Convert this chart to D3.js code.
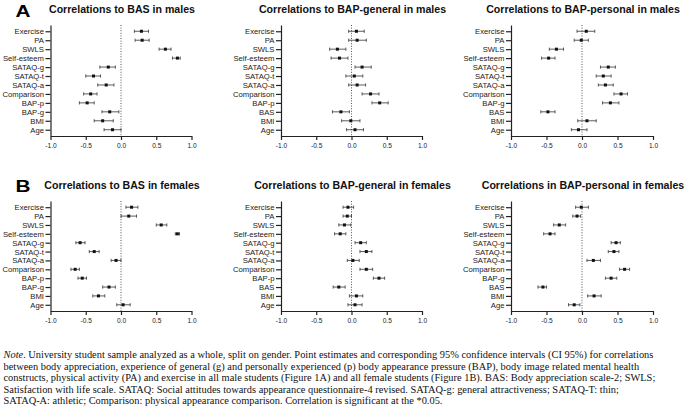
<!DOCTYPE html>
<html>
<head>
<meta charset="utf-8">
<script src="https://cdn.jsdelivr.net/npm/d3@7"></script>
<style>
  body { margin: 0; background: #fff; }
  svg { display: block; }
  .tick text { fill: #222; }
</style>
</head>
<body>
<div id="svg"></div>
<script>
//row labels for each kind of panel
let rowsBAS = ['Exercise', 'PA', 'SWLS', 'Self-esteem', 'SATAQ-g', 'SATAQ-t', 'SATAQ-a', 'Comparison', 'BAP-p', 'BAP-g', 'BMI', 'Age'];
let rowsBAPg = ['Exercise', 'PA', 'SWLS', 'Self-esteem', 'SATAQ-g', 'SATAQ-t', 'SATAQ-a', 'Comparison', 'BAP-p', 'BAS', 'BMI', 'Age'];
let rowsBAPp = ['Exercise', 'PA', 'SWLS', 'Self-esteem', 'SATAQ-g', 'SATAQ-t', 'SATAQ-a', 'Comparison', 'BAP-g', 'BAS', 'BMI', 'Age'];

let xTicks = [-1, -0.5, 0, 0.5, 1];

//males: estimate, lower and upper CI
let basMaleR = [0.29, 0.30, 0.63, 0.80, -0.18, -0.39, -0.21, -0.43, -0.48, -0.16, -0.26, -0.12];
let basMaleLo = [0.19, 0.20, 0.54, 0.73, -0.30, -0.50, -0.33, -0.53, -0.59, -0.27, -0.38, -0.24];
let basMaleHi = [0.39, 0.40, 0.71, 0.84, -0.08, -0.29, -0.10, -0.34, -0.38, -0.03, -0.11, 0.00];

let bapgMaleR = [0.07, 0.08, -0.20, -0.17, 0.15, 0.04, 0.08, 0.27, 0.40, -0.15, -0.01, 0.05];
let bapgMaleLo = [-0.04, -0.04, -0.31, -0.29, 0.05, -0.08, -0.04, 0.15, 0.29, -0.27, -0.14, -0.07];
let bapgMaleHi = [0.18, 0.21, -0.08, -0.05, 0.28, 0.16, 0.20, 0.39, 0.52, -0.03, 0.12, 0.17];

let bappMaleR = [0.06, -0.01, -0.36, -0.47, 0.37, 0.30, 0.33, 0.55, 0.40, -0.48, 0.07, -0.05];
let bappMaleLo = [-0.07, -0.11, -0.46, -0.57, 0.26, 0.20, 0.23, 0.45, 0.29, -0.58, -0.06, -0.15];
let bappMaleHi = [0.18, 0.09, -0.26, -0.38, 0.47, 0.41, 0.44, 0.64, 0.52, -0.38, 0.20, 0.07];

//females
let basFemR = [0.15, 0.11, 0.57, 0.80, -0.58, -0.38, -0.07, -0.65, -0.55, -0.17, -0.32, 0.03];
let basFemLo = [0.07, 0.00, 0.50, 0.77, -0.64, -0.45, -0.14, -0.71, -0.61, -0.26, -0.40, -0.06];
let basFemHi = [0.24, 0.22, 0.65, 0.83, -0.51, -0.31, 0.00, -0.59, -0.49, -0.08, -0.23, 0.13];

let bapgFemR = [-0.05, -0.06, -0.10, -0.16, 0.13, 0.21, 0.02, 0.21, 0.39, -0.18, 0.07, 0.05];
let bapgFemLo = [-0.12, -0.12, -0.18, -0.24, 0.05, 0.12, -0.06, 0.12, 0.31, -0.26, -0.03, -0.05];
let bapgFemHi = [0.03, 0.00, -0.01, -0.08, 0.21, 0.29, 0.11, 0.30, 0.47, -0.09, 0.16, 0.15];

let bappFemR = [-0.01, -0.07, -0.32, -0.45, 0.48, 0.45, 0.16, 0.60, 0.41, -0.55, 0.17, -0.11];
let bappFemLo = [-0.09, -0.13, -0.40, -0.54, 0.41, 0.37, 0.07, 0.53, 0.33, -0.62, 0.08, -0.19];
let bappFemHi = [0.09, -0.02, -0.23, -0.38, 0.54, 0.52, 0.26, 0.67, 0.49, -0.50, 0.27, -0.03];

let titles = ['Correlations to BAS in males', 'Correlations to BAP-general in males', 'Correlations to BAP-personal in males',
  'Correlations to BAS in females', 'Correlations to BAP-general in females', 'Correlations in BAP-personal in females'];

let noteLines = [
  'University student sample analyzed as a whole, split on gender. Point estimates and corresponding 95% confidence intervals (CI 95%) for correlations',
  'between body appreciation, experience of general (g) and personally experienced (p) body appearance pressure (BAP), body image related mental health',
  'constructs, physical activity (PA) and exercise in all male students (Figure 1A) and all female students (Figure 1B). BAS: Body appreciation scale-2; SWLS;',
  'Satisfaction with life scale. SATAQ: Social attitudes towards appearance questionnaire-4 revised. SATAQ-g: general attractiveness; SATAQ-T: thin;',
  'SATAQ-A: athletic; Comparison: physical appearance comparison. Correlation is significant at the *0.05.'];

//dimensions of svg
let w = 685;
let h = 406;

let svg = d3.select('#svg').
append('svg').
attr('width', w).
attr('height', h);

//panel layout
let cols = [[50.5, 191.5], [281, 422], [511, 653]];
let rowsY = [[25, 136], [201, 311]];
let titleY = [12.7, 188.5];

let panels = [
  { rows: rowsBAS, r: basMaleR, lo: basMaleLo, hi: basMaleHi },
  { rows: rowsBAPg, r: bapgMaleR, lo: bapgMaleLo, hi: bapgMaleHi },
  { rows: rowsBAPp, r: bappMaleR, lo: bappMaleLo, hi: bappMaleHi },
  { rows: rowsBAS, r: basFemR, lo: basFemLo, hi: basFemHi },
  { rows: rowsBAPg, r: bapgFemR, lo: bapgFemLo, hi: bapgFemHi },
  { rows: rowsBAPp, r: bappFemR, lo: bappFemLo, hi: bappFemHi }];

let font = 'Liberation Sans, Arial, sans-serif';

panels.forEach((p, k) => {
  let c = k % 3;
  let rw = Math.floor(k / 3);
  let g = svg.append('g');

  let xScale = d3.scaleLinear().
  domain([-1, 1]).
  range(cols[c]);

  let yScale = d3.scalePoint().
  domain(p.rows).
  range(rowsY[rw]).
  padding(0.7);

  //zero reference line
  g.append('line').
  attr('x1', xScale(0)).
  attr('x2', xScale(0)).
  attr('y1', rowsY[rw][0]).
  attr('y2', rowsY[rw][1]).
  attr('stroke', '#555').
  attr('stroke-width', 1).
  attr('stroke-dasharray', '1,1.6');

  //X axis
  let xAxis = d3.axisBottom(xScale).
  tickValues(xTicks).
  tickSize(4).
  tickSizeOuter(0).
  tickPadding(3).
  tickFormat(d => d.toFixed(1));

  let gx = g.append('g').
  attr('transform', 'translate(0,' + rowsY[rw][1] + ')').
  call(xAxis);
  gx.selectAll('text').
  style('font-family', font).
  style('font-size', '6.6px');

  //Y axis
  let yAxis = d3.axisLeft(yScale).
  tickSize(5).
  tickSizeOuter(0).
  tickPadding(1.5);

  let gy = g.append('g').
  attr('transform', 'translate(' + cols[c][0] + ',0)').
  call(yAxis);
  gy.selectAll('text').
  style('font-family', font).
  style('font-size', '7.7px');

  g.selectAll('.domain, .tick line').
  attr('stroke', '#222').
  attr('stroke-width', 1.2);

  //error bars
  let idx = d3.range(p.rows.length);
  let bars = g.selectAll('.ci').
  data(idx).
  enter().
  append('g').
  attr('class', 'ci').
  attr('stroke', '#333').
  attr('stroke-width', 0.8);

  bars.append('line').
  attr('x1', i => xScale(p.lo[i])).
  attr('x2', i => xScale(p.hi[i])).
  attr('y1', i => yScale(p.rows[i])).
  attr('y2', i => yScale(p.rows[i]));

  bars.append('line').
  attr('x1', i => xScale(p.lo[i])).
  attr('x2', i => xScale(p.lo[i])).
  attr('y1', i => yScale(p.rows[i]) - 1.6).
  attr('y2', i => yScale(p.rows[i]) + 1.6);

  bars.append('line').
  attr('x1', i => xScale(p.hi[i])).
  attr('x2', i => xScale(p.hi[i])).
  attr('y1', i => yScale(p.rows[i]) - 1.6).
  attr('y2', i => yScale(p.rows[i]) + 1.6);

  //point estimates
  g.selectAll('.pt').
  data(idx).
  enter().
  append('rect').
  attr('class', 'pt').
  attr('x', i => xScale(p.r[i]) - 1.5).
  attr('y', i => yScale(p.rows[i]) - 1.5).
  attr('width', 3).
  attr('height', 3).
  attr('fill', '#111');

  //title
  g.append('text').
  attr('x', (cols[c][0] + cols[c][1]) / 2 + 1).
  attr('y', titleY[rw]).
  attr('text-anchor', 'middle').
  style('font-family', font).
  style('font-weight', 'bold').
  style('font-size', '10.6px').
  attr('fill', '#111').
  text(titles[k]);
});

//panel letters
svg.selectAll('.letter').
data(['A', 'B']).
enter().
append('text').
attr('class', 'letter').
attr('x', 15.5).
attr('y', (d, i) => i === 0 ? 16.8 : 191.8).
attr('textLength', 15).
attr('lengthAdjust', 'spacingAndGlyphs').
style('font-family', font).
style('font-weight', 'bold').
style('font-size', '16.5px').
attr('fill', '#000').
text(d => d);

//note under the figure
let note = svg.append('g').
style('font-family', 'Liberation Serif, Times New Roman, serif').
style('font-size', '10.4px').
attr('fill', '#111');

note.selectAll('text').
data(noteLines).
enter().
append('text').
attr('x', 3.5).
attr('y', (d, i) => 358 + i * 11.5).
each(function (d, i) {
  let t = d3.select(this);
  if (i === 0) {
    t.append('tspan').style('font-style', 'italic').text('Note');
    t.append('tspan').text('. ' + d);
  } else {
    t.text(d);
  }
});
</script>
</body>
</html>
